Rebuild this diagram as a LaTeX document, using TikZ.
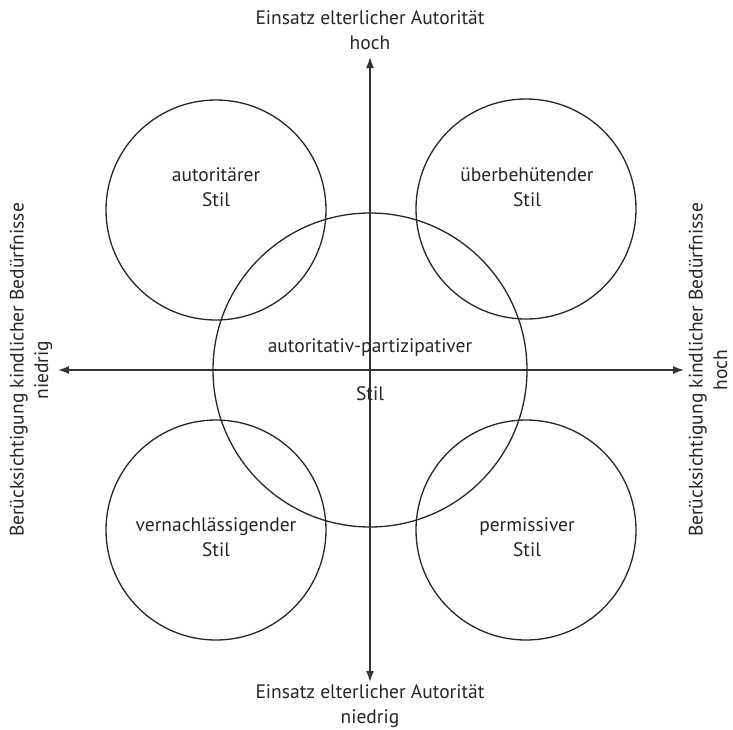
\documentclass[tikz,border=0pt]{standalone}
\usepackage{fontspec}
\setmainfont{PT Sans}
\usetikzlibrary{arrows.meta}
\begin{document}
\begin{tikzpicture}[x=1pt,y=-1pt,
  lbl/.style={font=\fontsize{19.5}{24.5}\selectfont, align=center, inner sep=0pt, text=black!85},
  ring/.style={draw=black!85, line width=1.3pt, circle, inner sep=0pt},
  axis/.style={draw=black!80, line width=1.5pt, -{Latex[length=11pt,width=8pt]}}]
\useasboundingbox (0,0) rectangle (733,729);
\coordinate (o) at (370,370);
\coordinate (top) at (370,57);
\coordinate (bot) at (370,682);
\coordinate (lft) at (58,370);
\coordinate (rgt) at (684,370);
\draw[axis] (o) -- (top);
\draw[axis] (o) -- (bot);
\draw[axis] (o) -- (lft);
\draw[axis] (o) -- (rgt);
\node[ring, minimum size=314] (c) at (370,370) {};
\node[ring, minimum size=220] (tl) at (216,210) {};
\node[ring, minimum size=220] (tr) at (526,209) {};
\node[ring, minimum size=220] (bl) at (216,530) {};
\node[ring, minimum size=220] (br) at (526,530) {};
\node[lbl] (ttl) at (216,187) {autoritärer\\Stil};
\node[lbl] (ttr) at (527,187) {überbehütender\\Stil};
\node[lbl] (tbl) at (216,537) {vernachlässigender\\Stil};
\node[lbl] (tbr) at (527,537) {permissiver\\Stil};
\node[lbl] (tc1) at (370,348) {autoritativ-partizipativer};
\node[lbl] (tc2) at (370,394) {Stil};
\node[lbl] (ltop) at (370,30) {Einsatz elterlicher Autorität\\hoch};
\node[lbl] (lbot) at (370,706) {Einsatz elterlicher Autorität\\niedrig};
\node[lbl, rotate=90] (llft) at (31,370) {Berücksichtigung kindlicher Bedürfnisse\\niedrig};
\node[lbl, rotate=90] (lrgt) at (708,370) {Berücksichtigung kindlicher Bedürfnisse\\hoch};
\end{tikzpicture}
\end{document}
